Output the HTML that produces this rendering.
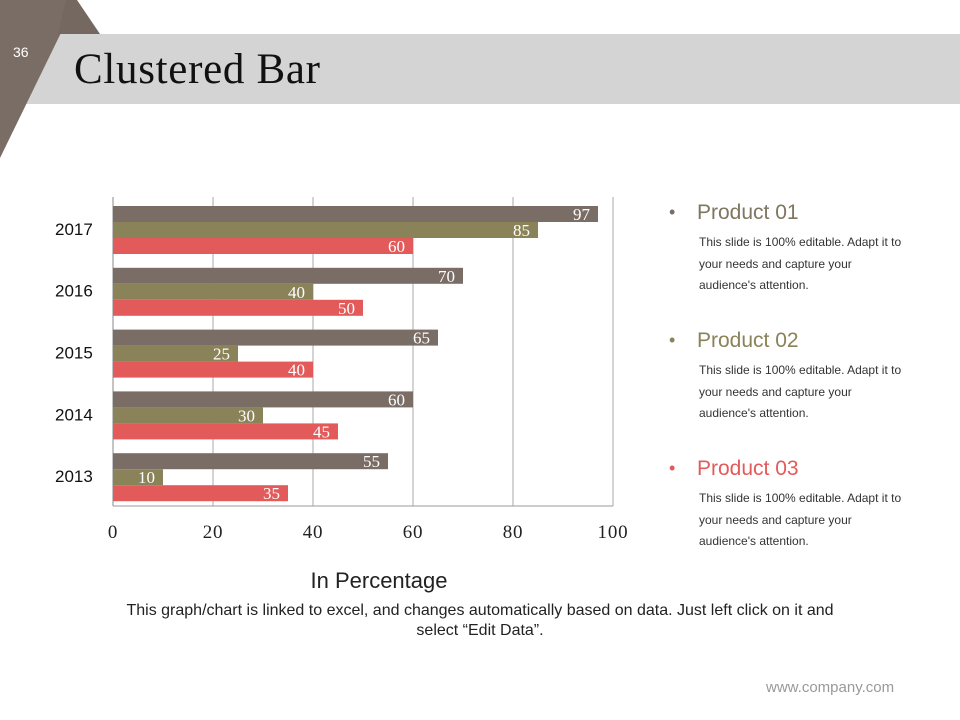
<!DOCTYPE html>
<html><head><meta charset="utf-8"><style>
body{margin:0;width:960px;height:720px;background:#fff;position:relative;overflow:hidden;font-family:"Liberation Sans",sans-serif}
.abs{position:absolute}
.lt{font-size:21px;left:697px}
.b{position:absolute;left:-28px;font-size:18px}
.ld{font-size:12px;color:#333;left:699px;line-height:21.5px;width:208px}
</style></head><body>
<svg class="abs" style="left:0;top:0" width="960" height="170">
<rect x="0" y="34" width="960" height="70" fill="#d4d4d4"/>
<polygon points="0,0 77,0 0,158" fill="#7a6d65"/>
<polygon points="66,0 77,0 100,34 58,34" fill="#756860"/>
<text x="13" y="57" font-size="14" fill="#fff" font-family="Liberation Sans">36</text>
<text x="74" y="83" font-size="43" fill="#111" font-family="Liberation Serif" textLength="246">Clustered Bar</text>
</svg>
<svg id="chart" class="abs" style="left:0;top:180px" width="650" height="420"></svg>
<div class="abs lt" style="top:201px;color:#7f7560"><span class="b" style="color:#7a6d65;top:1px">•</span>Product 01</div>
<div class="abs ld" style="top:232px">This slide is 100% editable. Adapt it to your needs and capture your audience's attention.</div>
<div class="abs lt" style="top:329px;color:#8a8258"><span class="b" style="color:#8a8258;top:1px">•</span>Product 02</div>
<div class="abs ld" style="top:360px">This slide is 100% editable. Adapt it to your needs and capture your audience's attention.</div>
<div class="abs lt" style="top:457px;color:#e35a5a"><span class="b" style="color:#e35a5a;top:1px">•</span>Product 03</div>
<div class="abs ld" style="top:488px">This slide is 100% editable. Adapt it to your needs and capture your audience's attention.</div>
<div class="abs" style="left:80px;top:601px;width:800px;text-align:center;font-size:16px;color:#222;line-height:20px">This graph/chart is linked to excel, and changes automatically based on data. Just left click on it and<br>select “Edit Data”.</div>
<div class="abs" style="left:766px;top:679px;font-size:15px;color:#999">www.company.com</div>
<script>
const categories=["2017","2016","2015","2014","2013"];
const product01=[97,70,65,60,55];
const product02=[85,40,25,30,10];
const product03=[60,50,40,45,35];
const ticks=[0,20,40,60,80,100];
const NS="http://www.w3.org/2000/svg";
const svg=document.getElementById("chart");
const x0=113,pxPer=5,top0=17,bandH=61.8,barH=16;
const xs=v=>x0+v*pxPer;
function mk(t,a){const e=document.createElementNS(NS,t);for(const k in a)e.setAttribute(k,a[k]);svg.appendChild(e);return e;}
ticks.forEach(t=>{
 const g=mk("line",{x1:xs(t),x2:xs(t),y1:top0,y2:top0+bandH*5,stroke:t===0?"#888":"#aaa","stroke-width":1});
 
 
 const l=mk("text",{x:xs(t),y:top0+bandH*5+32,"text-anchor":"middle","font-size":19,"font-family":"Liberation Serif","letter-spacing":"0.8",fill:"#222"});
 l.textContent=t;
 
 
});
const bl=mk("line",{x1:x0,x2:xs(100),y1:top0+bandH*5,y2:top0+bandH*5,stroke:"#999"});


const series=[[product01,"#7a6d65"],[product02,"#8a8258"],[product03,"#e35a5a"]];
categories.forEach((c,i)=>{
 const by=top0+i*bandH;
 const cl=mk("text",{x:55,y:by+bandH/2+7,"font-size":17,"font-family":"Liberation Sans",fill:"#111"});
 cl.textContent=c;
 
 
 series.forEach(([arr,col],s)=>{
  const y=by+9+s*barH;
  const r=mk("rect",{x:x0,y:y,width:arr[i]*pxPer,height:barH,fill:col});
  
  
  const t=mk("text",{x:xs(arr[i])-8,y:y+barH-2,"text-anchor":"end","font-size":17,"font-family":"Liberation Serif",fill:"#fff"});
  t.textContent=arr[i];
  
  
 });
});
const at=mk("text",{x:379,y:top0+bandH*5+82,"text-anchor":"middle","font-size":22,"font-family":"Liberation Sans",fill:"#222"});
at.textContent="In Percentage";


</script>
</body></html>
